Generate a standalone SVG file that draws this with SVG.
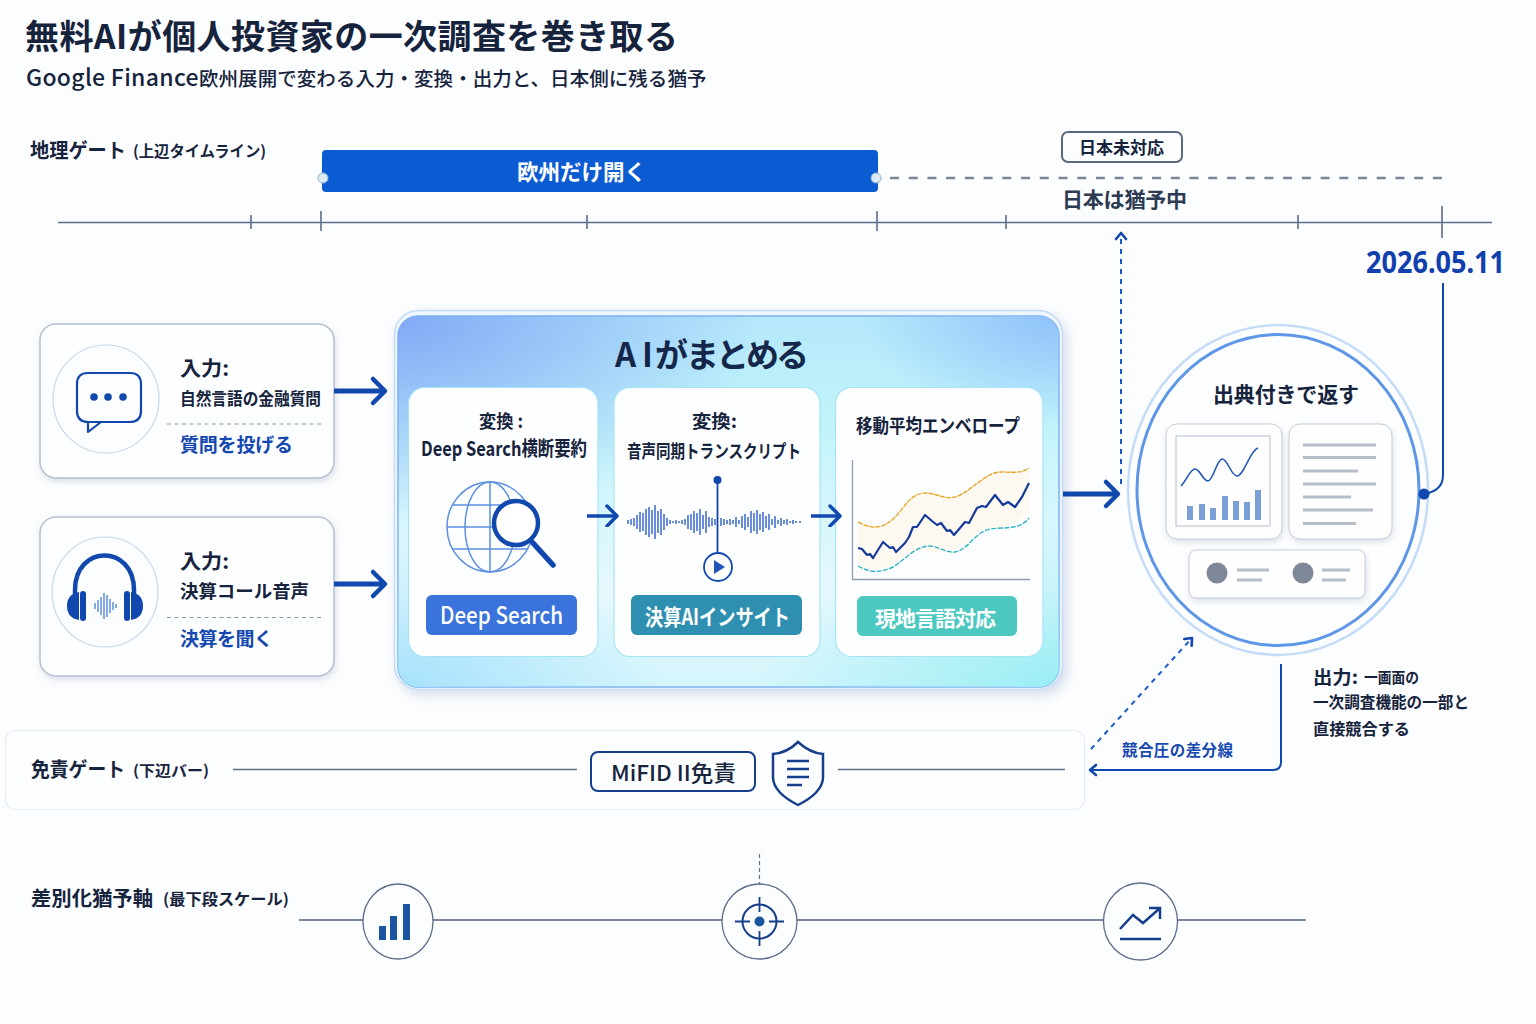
<svg xmlns="http://www.w3.org/2000/svg" width="1536" height="1024" viewBox="0 0 1536 1024">
<style>
text{font-family:"Noto Sans CJK JP","Noto Sans",sans-serif;fill:#16233c;font-weight:500}
.b{font-weight:700}
.blue{fill:#1548b0;font-weight:700}
.w{fill:#fff;font-weight:700}
.card{fill:#fdfeff;stroke:#b4c0d2;stroke-width:1.5;filter:url(#sh)}
.inner{fill:#fdfeff;stroke:#a6e4f5;stroke-width:1.2}
.c{fill:#fcfdff;stroke:#c8d8ec;stroke-width:1.2}
.axis{stroke:#5c6c8a;stroke-width:1.6;fill:none}
.gl{stroke:#5c8fdf;stroke-width:1.5;fill:none}
.ar{fill:none;stroke:#1148ae;stroke-width:5}
.ar2{fill:none;stroke:#1148ae;stroke-width:3.5}
.thin{fill:none;stroke:#1148ae;stroke-width:2}
.dash{fill:none;stroke:#1a5ac8;stroke-width:2;stroke-dasharray:5 5}
.gray{stroke:#b4bdc9;stroke-width:3;fill:none}
.navy{fill:none;stroke:#153f8c;stroke-width:2.5}
.ring{fill:#fff;stroke:#c0c9d6;stroke-width:1;opacity:.95;filter:url(#sh)}
</style>
<defs>
<filter id="sh" x="-10%" y="-10%" width="120%" height="125%"><feDropShadow dx="1" dy="3" stdDeviation="3" flood-color="#8a9bb8" flood-opacity=".3"/></filter>
<filter id="sh2" x="-5%" y="-5%" width="112%" height="112%"><feDropShadow dx="4" dy="5" stdDeviation="6" flood-color="#8aa4cc" flood-opacity=".35"/></filter>
<linearGradient id="p1" x1="0" y1="0" x2="0" y2="1"><stop offset="0" stop-color="#b4e8fb"/><stop offset=".28" stop-color="#c0f4fa"/><stop offset=".75" stop-color="#e8f8fd"/><stop offset="1" stop-color="#d4f5fc"/></linearGradient>
<radialGradient id="p2" cx="0" cy="0" r=".55"><stop offset="0" stop-color="#82a9f6"/><stop offset="1" stop-color="#82a9f6" stop-opacity="0"/></radialGradient>
<radialGradient id="p3" cx="1" cy="0" r=".3"><stop offset="0" stop-color="#8fc2fa"/><stop offset="1" stop-color="#8fc2fa" stop-opacity="0"/></radialGradient>
<radialGradient id="p4" cx="1" cy="1" r=".45"><stop offset="0" stop-color="#9aeef4"/><stop offset="1" stop-color="#9aeef4" stop-opacity="0"/></radialGradient>
<radialGradient id="p5" cx="0" cy="1" r=".4"><stop offset="0" stop-color="#a6e2fc"/><stop offset="1" stop-color="#a6e2fc" stop-opacity="0"/></radialGradient>
<marker id="big" markerUnits="userSpaceOnUse" markerWidth="24" markerHeight="34" refX="17" refY="15" orient="auto" viewBox="-2 -2 24 34"><path d="M5 3L17 15L5 27" fill="none" stroke="#1148ae" stroke-width="4.500" stroke-linecap="round" stroke-linejoin="round"/></marker>
<marker id="mid" markerUnits="userSpaceOnUse" markerWidth="20" markerHeight="24" refX="13" refY="11" orient="auto" viewBox="-2 -2 20 24"><path d="M4 1L14 11L4 21" fill="none" stroke="#1148ae" stroke-width="3.500" stroke-linecap="round" stroke-linejoin="round"/></marker>
<marker id="sm" markerUnits="userSpaceOnUse" markerWidth="14" markerHeight="14" refX="9" refY="6" orient="auto" viewBox="-1 -1 14 14"><path d="M3 1L9 6L3 11" fill="none" stroke="#1148ae" stroke-width="2.600" stroke-linecap="round" stroke-linejoin="round"/></marker>
</defs>
<rect width="1536" height="1024" fill="#fcfdfe"/>

<g id="title">
<text x="25" y="49" font-size="34" class="b" textLength="653" lengthAdjust="spacing">無料AIが個人投資家の一次調査を巻き取る</text>
<text x="26" y="86" font-size="23" style="letter-spacing:.3px">Google Finance<tspan x="199" font-size="19.500" style="letter-spacing:.05px">欧州展開で変わる入力・変換・出力と、日本側に残る猶予</tspan></text>
</g>

<g id="geo-gate">
<text x="30" y="158" font-size="20" class="b" textLength="96" lengthAdjust="spacingAndGlyphs">地理ゲート</text>
<text x="133" y="157" font-size="15.500" class="b" textLength="133" lengthAdjust="spacingAndGlyphs">(上辺タイムライン)</text>
<rect x="322" y="150" width="556" height="42" rx="4" fill="#0b5bd3"/>
<circle cx="323" cy="178" r="5" fill="#dcebf2" stroke="#8ab6dc"/>
<circle cx="876" cy="178" r="5" fill="#dcebf2" stroke="#8ab6dc"/>
<text x="517" y="180" font-size="22" class="w" textLength="129" lengthAdjust="spacingAndGlyphs">欧州だけ開く</text>
<path d="M890 178H1442" fill="none" stroke="#7a8799" stroke-width="2.500" stroke-dasharray="9 9.720"/>
<rect x="1062" y="132" width="120" height="30" rx="6" fill="#fbfdff" stroke="#5a6880" stroke-width="2"/>
<text x="1079" y="154" font-size="16.500" class="b" textLength="85" lengthAdjust="spacingAndGlyphs">日本未対応</text>
<text x="1062" y="207" font-size="21" class="b" style="fill:#2c3a52" textLength="125" lengthAdjust="spacing">日本は猶予中</text>
<path class="axis" d="M58 222.500H1492M251 215V229M321 211V231M587 215V229M877 211V231M1006 215V229M1298 215V229M1442 206V238"/>
</g>

<g id="date">
<text x="1366" y="273" font-size="31" class="b" style="fill:#1040ad;font-family:'Noto Sans',sans-serif" textLength="139" lengthAdjust="spacingAndGlyphs">2026.05.11</text>
</g>

<g id="input-question">
<rect class="card" x="40" y="324" width="294" height="154" rx="16"/>
<ellipse class="c" cx="106" cy="399" rx="53" ry="54"/>
<path d="M88 422H130Q141 422 141 411V384Q141 373 130 373H88Q77 373 77 384V411Q77 422 88 422ZM88 422V432L101 422" fill="none" stroke="#1148ae" stroke-width="2.200" stroke-linejoin="round"/>
<circle cx="94" cy="397" r="3.800" fill="#1148ae"/><circle cx="108" cy="397" r="3.800" fill="#1148ae"/><circle cx="123" cy="397" r="3.800" fill="#1148ae"/>
<text x="180" y="376" font-size="20" class="b" textLength="49" lengthAdjust="spacingAndGlyphs">入力:</text>
<text x="180" y="405" font-size="17" class="b" textLength="141" lengthAdjust="spacingAndGlyphs">自然言語の金融質問</text>
<path d="M167 424H323" stroke="#8b97ab" stroke-width="1.200" stroke-dasharray="4 3.500" fill="none"/>
<text x="180" y="452" font-size="19" class="blue" textLength="113" lengthAdjust="spacing">質問を投げる</text>
</g>

<g id="input-audio">
<rect class="card" x="40" y="517" width="294" height="159" rx="16"/>
<ellipse class="c" cx="105" cy="592" rx="53" ry="55"/>
<path d="M75 596V590C75 544 134 544 134 590V596" fill="none" stroke="#1148ae" stroke-width="4.500"/>
<path d="M79 592Q67 594 67 606Q67 618 79 620ZM131 592Q143 594 143 606Q143 618 131 620Z" fill="#1148ae"/>
<rect x="80" y="591" width="6" height="30" rx="3" fill="#1148ae"/><rect x="124" y="591" width="6" height="30" rx="3" fill="#1148ae"/>
<path d="M95 603V609M98 600V612M101 597V615M104 593V619M107 595V617M110 599V613M113 602V610M116 604V608" stroke="#4a7ed6" stroke-width="1.300" fill="none"/>
<text x="180" y="569" font-size="20" class="b" textLength="49" lengthAdjust="spacingAndGlyphs">入力:</text>
<text x="180" y="598" font-size="18" class="b" textLength="129" lengthAdjust="spacingAndGlyphs">決算コール音声</text>
<path d="M167 617.500H323" stroke="#8b97ab" stroke-width="1.200" stroke-dasharray="4 3.500" fill="none"/>
<text x="180" y="646" font-size="19" class="blue" textLength="93" lengthAdjust="spacing">決算を聞く</text>
</g>

<g id="ai-panel">
<rect x="394.500" y="310.500" width="668" height="379" rx="24" fill="#eef7fe" stroke="#c6dcf6" stroke-width="1.500" filter="url(#sh2)"/>
<rect x="398" y="316" width="661" height="371" rx="20" fill="url(#p1)" stroke="#7fb2f0" stroke-width="1.500"/>
<rect x="398" y="316" width="661" height="371" rx="20" fill="url(#p2)"/>
<rect x="398" y="316" width="661" height="371" rx="20" fill="url(#p3)"/>
<rect x="398" y="316" width="661" height="371" rx="20" fill="url(#p4)"/>
<rect x="398" y="316" width="661" height="371" rx="20" fill="url(#p5)"/>
<text x="615 642 655 686 716 746 776" y="367" font-size="33" class="b" style="fill:#14264a">AIがまとめる</text>
</g>

<g id="step-search">
<rect class="inner" x="408.500" y="387.500" width="189.500" height="269" rx="16"/>
<text x="479" y="428" font-size="18" class="b" textLength="44" lengthAdjust="spacingAndGlyphs">変換 :</text>
<text x="421" y="456" font-size="20" class="b" textLength="166" lengthAdjust="spacingAndGlyphs">Deep Search横断要約</text>
<ellipse class="gl" cx="490" cy="527" rx="43" ry="45"/>
<ellipse class="gl" cx="490" cy="527" rx="25" ry="45"/>
<path class="gl" d="M490 482V572M447 527H533M452 505H528M452 549H528"/>
<circle cx="516" cy="523" r="22" fill="#fff" stroke="#1148ae" stroke-width="4.500"/>
<path d="M533 543L553 565" stroke="#1148ae" stroke-width="5.500" stroke-linecap="round"/>
<rect x="426" y="595" width="151" height="40" rx="6" fill="#3b73dc"/>
<text x="440" y="624" font-size="24" class="w" style="font-weight:500" textLength="123" lengthAdjust="spacingAndGlyphs">Deep Search</text>
</g>

<g id="step-audio">
<rect class="inner" x="614" y="387.500" width="206" height="269" rx="16"/>
<text x="692" y="428" font-size="18" class="b" textLength="45" lengthAdjust="spacingAndGlyphs">変換:</text>
<text x="627" y="458" font-size="18" class="b" textLength="174" lengthAdjust="spacingAndGlyphs">音声同期トランスクリプト</text>
<path d="M628 520V524M631 519V525M634 518V526M637 515V529M640 512V532M643 513V531M646 509V535M649 507V537M652 510V534M655 505V539M658 511V533M661 509V535M664 514V530M667 518V526M670 520V524M673 521V523M676 520V524M679 521V523M682 520V524M685 519V525M688 515V529M691 514V530M694 511V533M697 513V531M700 509V535M703 515V529M706 511V533M709 517V527M712 518V526M715 519V525M721 518V526M724 519V525M727 520V524M730 519V525M733 520V524M736 517V527M739 520V524M742 516V528M745 514V530M748 517V527M751 511V533M754 513V531M757 510V534M760 514V530M763 512V532M766 516V528M769 514V530M772 519V525M775 516V528M778 520V524M781 518V526M784 520V524M787 519V525M790 521V523M793 520V524M796 521V523M800 521V523" stroke="#1f50c4" stroke-width="1.300" fill="none"/>
<path d="M717.500 480V552" stroke="#1148ae" stroke-width="1.800" fill="none"/>
<circle cx="717.500" cy="480" r="4" fill="#1148ae"/>
<circle cx="718" cy="567" r="14" fill="#fff" stroke="#1148ae" stroke-width="1.800"/>
<path d="M714 560L725 567L714 574Z" fill="#1f56b8"/>
<rect x="631" y="595" width="171" height="40" rx="6" fill="#2f8fb0"/>
<text x="645" y="625" font-size="22" class="w" textLength="145" lengthAdjust="spacingAndGlyphs">決算AIインサイト</text>
</g>

<g id="step-envelope">
<rect class="inner" x="835.500" y="387.500" width="207.500" height="269" rx="16"/>
<text x="856" y="433" font-size="19" class="b" textLength="164" lengthAdjust="spacingAndGlyphs">移動平均エンベロープ</text>
<path d="M858 522C870 528 880 530 892 520C905 508 910 493 925 493C938 493 945 501 958 496C972 490 985 473 1000 472C1012 472 1020 474 1029 468V512C1020 520 1005 530 985 530C970 532 960 553 945 553C930 553 920 545 905 556C890 568 875 573 858 566Z" fill="#fdf3de" opacity=".45"/>
<path d="M852.500 460V579.500H1030" fill="none" stroke="#8f9bb0" stroke-width="1.300"/>
<path d="M858 522C870 528 880 530 892 520C905 508 910 493 925 493C938 493 945 501 958 496C972 490 985 473 1000 472C1012 472 1020 474 1029 468" fill="none" stroke="#e8a52a" stroke-width="1.400" stroke-dasharray="5 1"/>
<path d="M858 566C870 573 880 573 893 567C905 560 915 546 930 546C938 546 945 553 955 552C968 550 975 532 990 529C1005 527 1020 530 1029 518" fill="none" stroke="#2fb4c8" stroke-width="1.400" stroke-dasharray="5 1.500"/>
<polyline points="858,548 862,549 867,555 870,554 873,558 883,542 890,548 893,547 896,552 905,543 909,537 913,527 917,527 925,515 932,521 937,525 941,523 947,531 950,530 954,535 960,528 965,522 969,523 977,508 982,506 986,507 995,495 1003,505 1008,502 1015,507 1022,497 1029,483" fill="none" stroke="#143a9c" stroke-width="2.200" stroke-linejoin="round"/>
<rect x="857" y="596" width="160" height="40" rx="6" fill="#4cc8c0"/>
<text x="875" y="626" font-size="21" class="w" textLength="121" lengthAdjust="spacing">現地言語対応</text>
</g>

<g id="output-circle">
<ellipse cx="1278" cy="490" rx="150" ry="165" fill="#fdfeff" stroke="#c4dcf8" stroke-width="2.500"/>
<ellipse cx="1278" cy="490" rx="141" ry="155.500" fill="#fdfeff" stroke="#5f97e8" stroke-width="3"/>
<text x="1213" y="402" font-size="21" class="b" textLength="146" lengthAdjust="spacing">出典付きで返す</text>
<rect class="ring" x="1166" y="424" width="116" height="115" rx="11"/>
<rect x="1176" y="436" width="94" height="90" fill="none" stroke="#c0c9d6" stroke-width="1.200"/>
<path d="M1181 486C1187 480 1190 469 1195 469C1200 469 1203 481 1208 481C1213 481 1217 459 1222 459C1228 459 1231 476 1237 476C1244 476 1250 450 1258 448" fill="none" stroke="#1f56b8" stroke-width="1.600"/>
<path d="M1187 506h6v14h-6zM1199 504h6v16h-6zM1210 508h6v12h-6zM1222 496h6v24h-6zM1233 501h6v19h-6zM1244 502h6v18h-6zM1255 490h6v30h-6z" fill="#7ba0d8"/>
<rect class="ring" x="1289" y="424" width="103" height="115" rx="11"/>
<path class="gray" d="M1303 445H1376M1303 457.500H1376M1303 471H1358M1303 484H1376M1303 497H1351M1303 510H1373M1303 523.500H1356"/>
<rect class="ring" x="1189" y="550" width="176" height="48" rx="7"/>
<circle cx="1217" cy="573" r="10.500" fill="#7f8898"/><circle cx="1303" cy="573" r="10.500" fill="#7f8898"/>
<path class="gray" d="M1237 570H1269M1237 580H1262M1322 570H1350M1322 580H1346"/>
</g>

<g id="output-note">
<text x="1313" y="684" font-size="18" class="b" textLength="45" lengthAdjust="spacingAndGlyphs">出力:</text>
<text x="1364" y="683" font-size="14.500" class="b" textLength="55" lengthAdjust="spacingAndGlyphs">一画面の</text>
<text x="1313" y="708" font-size="16" class="b" textLength="156" lengthAdjust="spacingAndGlyphs">一次調査機能の一部と</text>
<text x="1313" y="735" font-size="16" class="b" textLength="97" lengthAdjust="spacingAndGlyphs">直接競合する</text>
<text x="1122" y="756" font-size="15.500" class="blue" textLength="111" lengthAdjust="spacing">競合圧の差分線</text>
</g>

<g id="disclaimer-gate">
<rect x="5.500" y="730.500" width="1079" height="79" rx="10" fill="#fdfeff" stroke="#e4ecf5" stroke-width="1.200"/>
<text x="31" y="777" font-size="20" class="b" textLength="94" lengthAdjust="spacingAndGlyphs">免責ゲート</text>
<text x="133" y="776" font-size="15" class="b" textLength="76" lengthAdjust="spacingAndGlyphs">(下辺バー)</text>
<path class="axis" d="M233 769.500H577M838 769.500H1065"/>
<rect x="591" y="752" width="164" height="39" rx="7" fill="#fcfdff" stroke="#153f8c" stroke-width="2"/>
<text x="611" y="781" font-size="22" textLength="125" lengthAdjust="spacingAndGlyphs">MiFID II免責</text>
<path class="navy" d="M798 742Q810 753 823 754V778Q822 793 798 805Q774 793 773 778V754Q787 753 798 742Z"/>
<path class="navy" d="M787 761H809M787 769H809M787 777H809M787 785H802"/>
</g>

<g id="differentiation-axis">
<text x="31" y="906" font-size="20" class="b" textLength="122" lengthAdjust="spacingAndGlyphs">差別化猶予軸</text>
<text x="163" y="905" font-size="15.500" class="b" textLength="126" lengthAdjust="spacingAndGlyphs">(最下段スケール)</text>
<path d="M299 920H363M433 920H722M797 920H1104M1178 920H1306" stroke="#7b889e" stroke-width="1.800" fill="none"/>
<ellipse cx="398" cy="921.500" rx="35" ry="37.500" fill="#fcfdff" stroke="#5c6c8a" stroke-width="1.300"/>
<path d="M379 926h7v14h-7zM390 916h7v24h-7zM403 904h7v36h-7z" fill="#1c559f"/>
<path d="M759.500 854V884" stroke="#5c6c8a" stroke-width="1.200" stroke-dasharray="4 3" fill="none"/>
<circle cx="759.500" cy="921.500" r="37.500" fill="#fcfdff" stroke="#5c6c8a" stroke-width="1.300"/>
<circle cx="759.500" cy="921.500" r="17" fill="none" stroke="#153f8c" stroke-width="2"/>
<circle cx="759.500" cy="921.500" r="5" fill="#1c559f"/>
<path d="M759.500 897V912M759.500 931V946M735 921.500H750M769 921.500H784" stroke="#153f8c" stroke-width="1.800" fill="none"/>
<ellipse cx="1140.500" cy="921.500" rx="37" ry="38.500" fill="#fcfdff" stroke="#5c6c8a" stroke-width="1.300"/>
<path d="M1120 929L1133 915L1143 923L1159 909M1149 908H1160V919M1120 939H1161" fill="none" stroke="#153f8c" stroke-width="2.500"/>
</g>

<g id="connectors">
<path class="ar" d="M334 391H385" marker-end="url(#big)"/>
<path class="ar" d="M334 584H385" marker-end="url(#big)"/>
<path class="ar2" d="M587 516H616" marker-end="url(#mid)"/>
<path class="ar2" d="M811 516H839" marker-end="url(#mid)"/>
<path class="ar" d="M1063 494H1118" marker-end="url(#big)"/>
<path class="dash" d="M1121 484V233" marker-end="url(#sm)"/>
<path class="dash" d="M1091 749L1192 638" marker-end="url(#sm)"/>
<path class="thin" d="M1443 283V475Q1443 491 1424 494"/>
<circle cx="1424" cy="494" r="5.500" fill="#1148ae"/>
<path class="thin" d="M1281 664V762Q1281 770 1273 770H1090" marker-end="url(#sm)"/>
</g>
</svg>
